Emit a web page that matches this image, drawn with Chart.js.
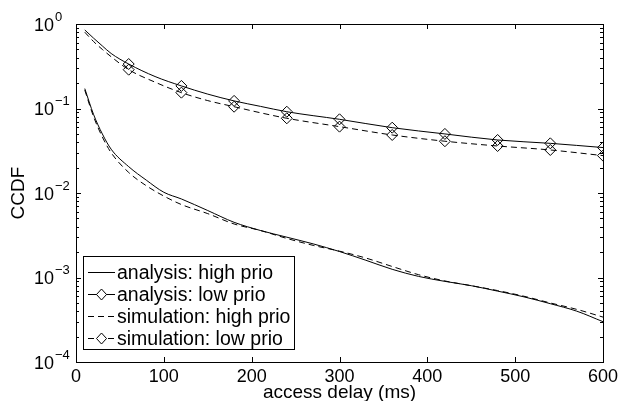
<!DOCTYPE html>
<html>
<head>
<meta charset="utf-8">
<script src="https://cdn.jsdelivr.net/npm/chart.js@4"></script>
<style>
  html, body { margin: 0; padding: 0; background: #fff; }
  canvas { display: block; }
</style>
</head>
<body>
<canvas id="chartCanvas" width="622" height="401"></canvas>
<script>
// x values (ms) and CCDF values
const xHigh = [10, 20, 30, 40, 60, 80, 100, 120, 150, 180, 210, 240, 270, 300, 330, 360, 390, 420, 450, 480, 510, 540, 570, 600]
const analysisHigh = [0.172, 0.085, 0.05, 0.033, 0.0205, 0.0142, 0.0102, 0.0085, 0.0062, 0.0045, 0.0036, 0.003, 0.0025, 0.00203, 0.0016, 0.00125, 0.00103, 0.0009, 0.0008, 0.00069, 0.00059, 0.00049, 0.0004, 0.0003]
const simulationHigh = [0.165, 0.08, 0.046, 0.03, 0.0175, 0.0122, 0.0092, 0.0073, 0.0057, 0.0043, 0.0036, 0.0029, 0.0024, 0.00205, 0.0017, 0.00135, 0.00108, 0.00091, 0.0008, 0.0007, 0.0006, 0.0005, 0.00042, 0.00034]

const xLow = [10, 20, 30, 40, 60, 90, 120, 150, 180, 210, 240, 300, 360, 420, 480, 540, 600]
const analysisLow = [0.85, 0.68, 0.55, 0.448, 0.336, 0.239, 0.185, 0.148, 0.123, 0.106, 0.0916, 0.0745, 0.0593, 0.05, 0.0424, 0.0387, 0.0345]
const simulationLow = [0.8, 0.62, 0.5, 0.41, 0.288, 0.205, 0.154, 0.124, 0.105, 0.089, 0.0766, 0.061, 0.0486, 0.041, 0.036, 0.0323, 0.0277]

// where the diamonds sit
const markerX = [60, 120, 180, 240, 300, 360, 420, 480, 540, 600]

// axis ticks
const xTickValues = [0, 100, 200, 300, 400, 500, 600]
const yTickExponents = [0, -1, -2, -3, -4]

const seriesLabels = ['analysis: high prio', 'analysis: low prio', 'simulation: high prio', 'simulation: low prio']

const FONT = '"Liberation Sans", Arial, Helvetica, sans-serif'
const DASH = [6, 4]

const toPoints = (xs, ys) => xs.map((x, i) => ({ x: x, y: ys[i] }))
const markerRadius = (ctx) => {
  const p = ctx.raw
  return p && markerX.includes(p.x) ? 5.5 : 0
}

// tegner ramme, ticks, tekst og forklaring selv (matlab-stil)
const matlabAxes = {
  id: 'matlabAxes',
  beforeDraw(chart) {
    const c = chart.ctx
    c.save()
    c.fillStyle = '#fff'
    c.fillRect(0, 0, chart.width, chart.height)
    c.restore()
  },
  afterDraw(chart) {
    const c = chart.ctx
    const a = chart.chartArea
    const xs = chart.scales.x
    const ys = chart.scales.y
    c.save()
    c.strokeStyle = '#000'
    c.fillStyle = '#000'
    c.lineWidth = 1

    // frame
    c.strokeRect(Math.round(a.left) + 0.5, Math.round(a.top) + 0.5, Math.round(a.right - a.left), Math.round(a.bottom - a.top))

    // x ticks, inward, top and bottom
    c.beginPath()
    xTickValues.forEach(v => {
      const px = Math.round(xs.getPixelForValue(v)) + 0.5
      c.moveTo(px, a.bottom); c.lineTo(px, a.bottom - 5)
      c.moveTo(px, a.top); c.lineTo(px, a.top + 5)
    })
    // y ticks, major and minor
    yTickExponents.forEach(e => {
      const py = Math.round(ys.getPixelForValue(Math.pow(10, e))) + 0.5
      c.moveTo(a.left, py); c.lineTo(a.left + 5, py)
      c.moveTo(a.right, py); c.lineTo(a.right - 5, py)
      if (e < 0) {
        for (let m = 2; m <= 9; m++) {
          const my = Math.round(ys.getPixelForValue(m * Math.pow(10, e))) + 0.5
          c.moveTo(a.left, my); c.lineTo(a.left + 3, my)
          c.moveTo(a.right, my); c.lineTo(a.right - 3, my)
        }
      }
    })
    c.stroke()

    // x tick labels
    c.font = '18px ' + FONT
    c.textAlign = 'center'
    c.textBaseline = 'middle'
    xTickValues.forEach(v => {
      c.fillText(String(v), xs.getPixelForValue(v), a.bottom + 15)
    })

    // y tick labels: 10 with exponent
    yTickExponents.forEach(e => {
      const py = ys.getPixelForValue(Math.pow(10, e))
      c.font = '18px ' + FONT
      c.textAlign = 'right'
      c.textBaseline = 'middle'
      c.fillText('10', 54, py + 2)
      c.font = '13px ' + FONT
      c.textAlign = 'left'
      c.fillText(e === 0 ? '0' : '\u2212' + String(-e), 55, py - 7)
    })

    // axis titles
    c.font = '19px ' + FONT
    c.textAlign = 'center'
    c.textBaseline = 'middle'
    c.fillText('access delay (ms)', (a.left + a.right) / 2, a.bottom + 31)
    c.save()
    c.translate(19, (a.top + a.bottom) / 2)
    c.rotate(-Math.PI / 2)
    c.fillText('CCDF', 0, 0)
    c.restore()

    // legend box
    const box = { x: 83, y: 256, w: 211, h: 93 }
    c.fillStyle = '#fff'
    c.fillRect(box.x, box.y, box.w, box.h)
    c.strokeStyle = '#000'
    c.strokeRect(box.x + 0.5, box.y + 0.5, box.w, box.h)
    const rowH = 22
    chart.data.datasets.forEach((ds, i) => {
      const ry = Math.round(box.y + 15.5 + i * rowH) + 0.5
      c.beginPath()
      c.setLineDash(ds.borderDash || [])
      c.moveTo(88, ry); c.lineTo(115, ry)
      c.strokeStyle = ds.borderColor
      c.stroke()
      c.setLineDash([])
      if (ds.hasMarkers) {
        const cx = 101.5
        c.beginPath()
        c.moveTo(cx, ry - 5.5); c.lineTo(cx + 5, ry); c.lineTo(cx, ry + 5.5); c.lineTo(cx - 5, ry); c.closePath()
        c.fillStyle = '#fff'
        c.fill()
        c.stroke()
      }
      c.fillStyle = '#000'
      c.font = '19.5px ' + FONT
      c.textAlign = 'left'
      c.textBaseline = 'middle'
      c.fillText(ds.label, 117, ry + 1)
    })
    c.restore()
  }
}

const lineDataset = (label, xs, ys, dashed, markers) => ({
  label: label,
  data: toPoints(xs, ys),
  borderColor: '#000',
  borderWidth: 1,
  borderDash: dashed ? DASH : [],
  cubicInterpolationMode: 'monotone',
  pointStyle: 'rectRot',
  pointRadius: markers ? markerRadius : 0,
  pointBorderColor: '#000',
  pointBorderWidth: 1,
  pointBackgroundColor: 'rgba(0,0,0,0)',
  hasMarkers: markers
})

const chart = new Chart(document.getElementById('chartCanvas'), {
  type: 'line',
  data: {
    datasets: [
      lineDataset(seriesLabels[0], xHigh, analysisHigh, false, false),
      lineDataset(seriesLabels[1], xLow, analysisLow, false, true),
      lineDataset(seriesLabels[2], xHigh, simulationHigh, true, false),
      lineDataset(seriesLabels[3], xLow, simulationLow, true, true)
    ]
  },
  options: {
    responsive: false,
    animation: false,
    layout: { padding: { left: 76, right: 19, top: 24, bottom: 39 } },
    scales: {
      x: { type: 'linear', min: 0, max: 600, display: false },
      y: { type: 'logarithmic', min: 1e-4, max: 1, display: false }
    },
    plugins: {
      legend: { display: false },
      tooltip: { enabled: false }
    }
  },
  plugins: [matlabAxes]
})
</script>
</body>
</html>
